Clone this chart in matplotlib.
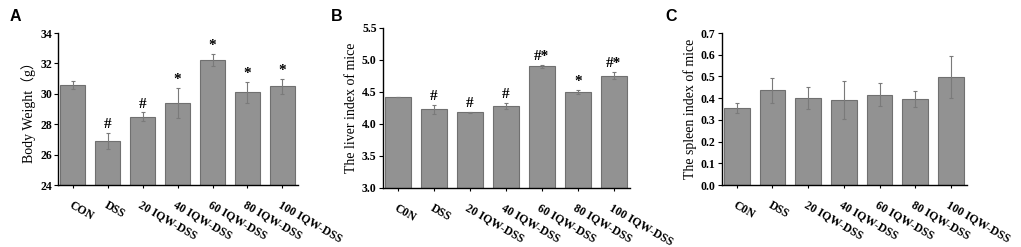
import matplotlib.pyplot as plt
import numpy as np

plt.rcParams['font.family'] = ['Liberation Serif', 'Noto Sans CJK SC']
plt.rcParams['font.weight'] = 'bold'

groups_a = ["CON", "DSS", "20 IQW-DSS", "40 IQW-DSS", "60 IQW-DSS", "80 IQW-DSS", "100 IQW-DSS"]
groups_bc = ["C0N", "DSS", "20 IQW-DSS", "40 IQW-DSS", "60 IQW-DSS", "80 IQW-DSS", "100 IQW-DSS"]

weight = [30.6, 26.9, 28.5, 29.4, 32.25, 30.1, 30.5]
weight_err = [0.25, 0.55, 0.3, 1.0, 0.4, 0.7, 0.5]
weight_marks = ["", "#", "#", "*", "*", "*", "*"]

liver = [4.42, 4.23, 4.18, 4.28, 4.90, 4.50, 4.75]
liver_err = [0.005, 0.07, 0.005, 0.045, 0.02, 0.025, 0.055]
liver_marks = ["", "#", "#", "#", "#*", "*", "#*"]

spleen = [0.355, 0.437, 0.400, 0.393, 0.417, 0.397, 0.497]
spleen_err = [0.022, 0.057, 0.052, 0.088, 0.055, 0.038, 0.098]

fig = plt.figure(figsize=(10.21, 2.47), dpi=100)

panels = [
    ([0.057, 0.251, 0.235, 0.615], groups_a, weight, weight_err, weight_marks,
     (24, 34), np.arange(24, 35, 2), "Body Weight\uff08g\uff09", "A", (0.009, 0.915), 0.1, "{:.0f}"),
    ([0.375, 0.239, 0.242, 0.648], groups_bc, liver, liver_err, liver_marks,
     (3.0, 5.5), np.arange(3.0, 5.51, 0.5), "The liver index of mice", "B", (0.324, 0.915), 0.03, "{:.1f}"),
    ([0.707, 0.251, 0.240, 0.615], groups_bc, spleen, spleen_err, None,
     (0.0, 0.7), np.arange(0.0, 0.71, 0.1), "The spleen index of mice", "C", (0.652, 0.915), 0.0, "{:.1f}"),
]

for rect, names, vals, errs, marks, ylim, yticks, ylabel, letter, lpos, gap, fmt in panels:
    ax = fig.add_axes(rect)
    x = np.arange(len(vals))
    ax.bar(x, vals, width=0.72, color="#929292", edgecolor="#707070", linewidth=0.8,
           yerr=errs, ecolor="#7a7a7a", capsize=1.5, error_kw=dict(elinewidth=0.8, capthick=0.8))
    ax.set_ylim(*ylim)
    ax.set_xlim(-0.42, len(vals) - 0.55)
    ax.set_yticks(yticks)
    ax.set_yticklabels([fmt.format(t) for t in yticks], fontsize=8.5)
    ax.set_xticks(x)
    ax.set_xticklabels(names, fontsize=8.5, rotation=-30, ha="left", va="top",
                       rotation_mode="anchor")
    ax.tick_params(axis="x", length=2, width=0.8, pad=8)
    ax.tick_params(axis="y", length=3, width=0.8, pad=1.5)
    ax.spines["top"].set_visible(False)
    ax.spines["right"].set_visible(False)
    ax.spines["left"].set_linewidth(1.0)
    ax.spines["bottom"].set_linewidth(1.0)
    ax.set_ylabel(ylabel, fontsize=10, labelpad=3)
    if marks:
        for xi, v, e, m in zip(x, vals, errs, marks):
            if m:
                ax.text(xi, v + e + gap, m, ha="center", va="bottom", fontsize=11)
    fig.text(lpos[0], lpos[1], letter, fontsize=11.5, fontweight="bold",
             family="Liberation Sans")

fig.savefig("out.png", dpi=100)
